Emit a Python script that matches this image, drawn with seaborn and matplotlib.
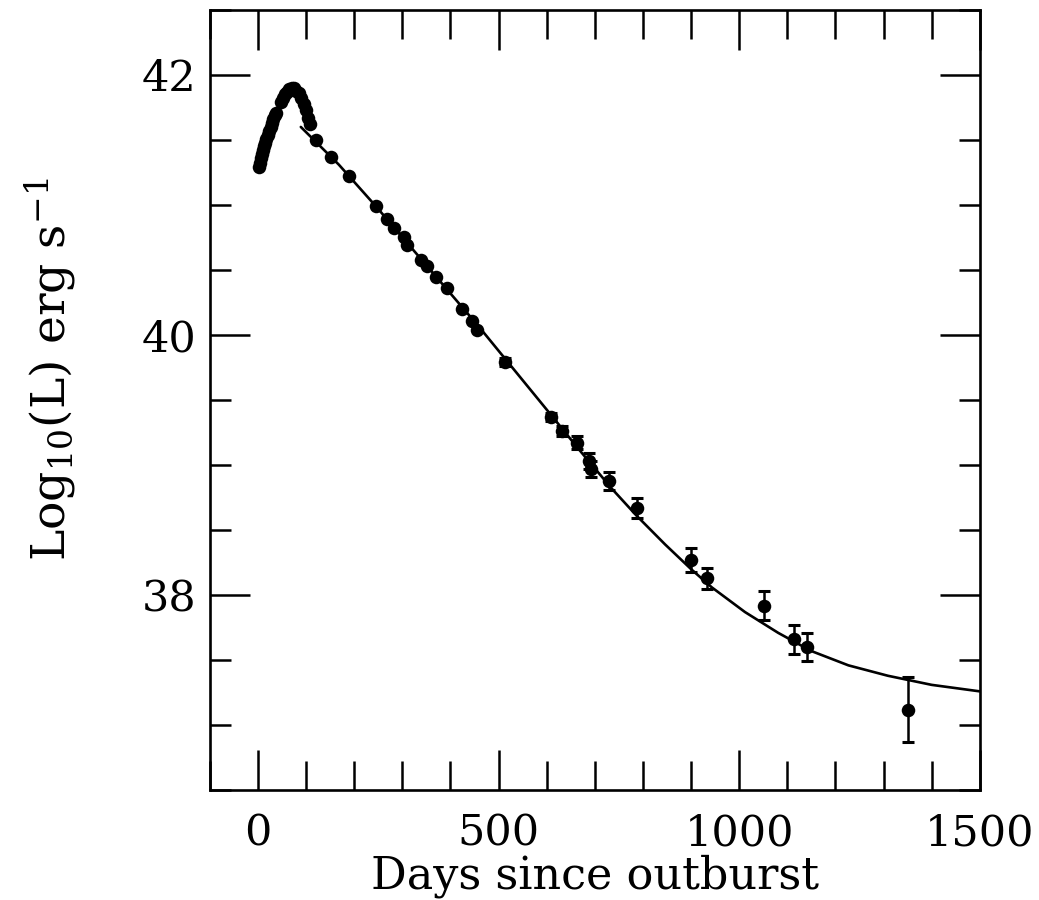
import numpy as np
import pandas as pd
import matplotlib
matplotlib.use("Agg")
import matplotlib.pyplot as plt
import seaborn as sns

obs_day = [2, 4, 6, 8, 10, 12, 14, 17, 20, 23, 26, 29, 32, 35, 38,
           48, 52, 56, 60, 65, 70, 75, 80, 85, 90, 95, 100, 104, 108,
           120, 151, 189, 245, 269, 283, 303, 310, 338, 352, 369, 393,
           424, 445, 455, 514, 608, 632, 663, 687, 693, 729, 787,
           900, 933, 1052, 1113, 1140, 1351]
obs_logL = [41.29, 41.32, 41.36, 41.39, 41.42, 41.45, 41.48, 41.51, 41.54,
            41.57, 41.60, 41.63, 41.66, 41.69, 41.71,
            41.79, 41.82, 41.85, 41.87, 41.89, 41.90, 41.90, 41.88, 41.86,
            41.82, 41.78, 41.73, 41.67, 41.62,
            41.50, 41.37, 41.22, 40.99, 40.89, 40.82, 40.75, 40.69, 40.58,
            40.53, 40.45, 40.36, 40.20, 40.11, 40.04, 39.79, 39.37, 39.26,
            39.17, 39.03, 38.97, 38.88, 38.67,
            38.27, 38.13, 37.92, 37.66, 37.60, 37.12]
obs_err = [0] * 44 + [0.03, 0.03, 0.04, 0.05, 0.06, 0.06, 0.07, 0.08,
                      0.09, 0.08, 0.11, 0.11, 0.11, 0.25]

# ---- model curve ----
model_day = [89, 168, 245, 460, 608, 667, 735, 787, 846, 900, 943, 1012,
             1081, 1150, 1227, 1309, 1400, 1500]
model_logL = [41.60, 41.31, 40.99, 40.06, 39.39, 39.12, 38.82, 38.61, 38.39,
              38.20, 38.06, 37.87, 37.71, 37.57, 37.46, 37.38, 37.31, 37.26]

x_major = [0, 500, 1000, 1500]
y_major = [38, 40, 42]

sns.set_style("ticks")
plt.rcParams["font.family"] = ["DejaVu Serif"]
plt.rcParams["mathtext.fontset"] = "dejavuserif"
plt.rcParams["text.color"] = "black"
plt.rcParams["axes.labelcolor"] = "black"
plt.rcParams["xtick.color"] = "black"
plt.rcParams["ytick.color"] = "black"

fig = plt.figure(figsize=(10.39, 9.0), dpi=100)
ax = fig.add_axes([0.202, 0.122, 0.741, 0.867])

obs = pd.DataFrame({"day": obs_day, "logL": obs_logL, "err": obs_err})
model = pd.DataFrame({"day": model_day, "logL": model_logL})

sns.lineplot(data=model, x="day", y="logL", ax=ax, color="black", lw=1.9,
             sort=True)
eb = obs[obs["err"] > 0]
ax.errorbar(eb["day"], eb["logL"], yerr=eb["err"], fmt="none", ecolor="black",
            elinewidth=1.8, capsize=4.5, capthick=2.2)
sns.scatterplot(data=obs, x="day", y="logL", ax=ax, color="black", s=95,
                edgecolor="black", linewidth=0, zorder=5)

ax.set_xlim(-100, 1500)
ax.set_ylim(36.5, 42.5)
ax.set_xticks(x_major)
ax.set_yticks(y_major)
ax.set_xticks(np.arange(-100, 1501, 100), minor=True)
ax.set_yticks(np.arange(36.5, 42.51, 0.5), minor=True)
ax.set_xticklabels([str(v) for v in x_major])
ax.set_yticklabels([str(v) for v in y_major])

ax.tick_params(axis="both", which="both", direction="in", top=True, right=True,
               width=1.8, color="black", labelcolor="black")
ax.tick_params(axis="x", which="major", length=29, pad=16, labelsize=31)
ax.tick_params(axis="x", which="minor", length=21)
ax.tick_params(axis="y", which="major", length=29, pad=10, labelsize=31)
ax.tick_params(axis="y", which="minor", length=15)
for sp in ax.spines.values():
    sp.set_linewidth(1.9)
    sp.set_color("black")

ax.set_xlabel("Days since outburst", fontsize=32, labelpad=0, color="black")
ax.set_ylabel(r"Log$_{10}$(L) erg s$^{-1}$", fontsize=34, color="black")
ax.yaxis.set_label_coords(-0.17, 0.54)

fig.savefig("out.png", dpi=100, facecolor="white")
